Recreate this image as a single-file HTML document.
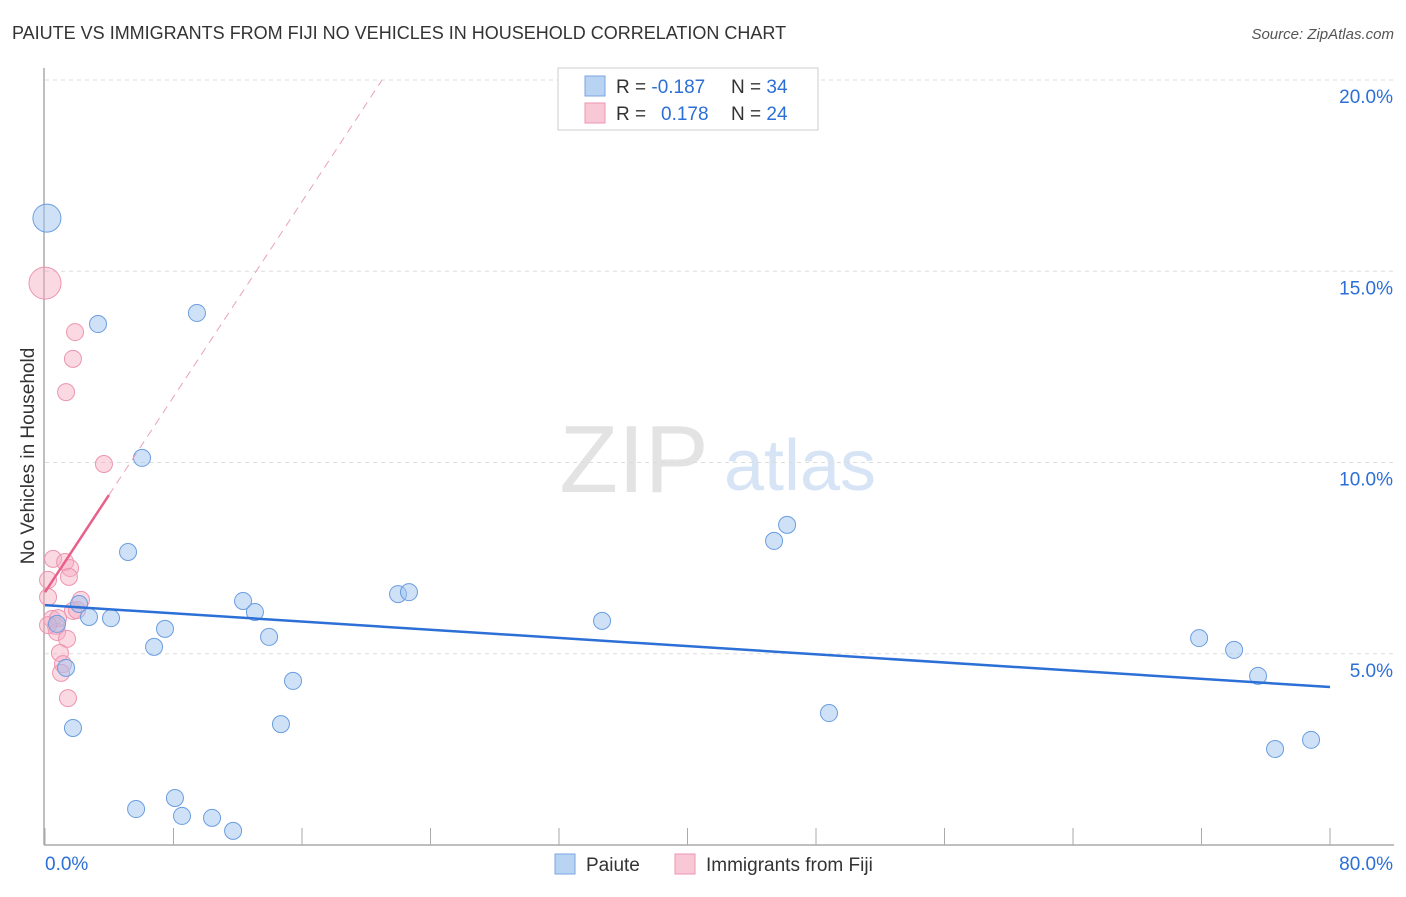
<!DOCTYPE html>
<html><head><meta charset="utf-8"><style>
body{margin:0;background:#fff;font-family:"Liberation Sans",sans-serif;}
svg text{font-family:"Liberation Sans",sans-serif;}
</style></head><body>
<svg id="c" width="1406" height="892" xmlns="http://www.w3.org/2000/svg">
<text x="12" y="39" font-size="18" fill="#333">PAIUTE VS IMMIGRANTS FROM FIJI NO VEHICLES IN HOUSEHOLD CORRELATION CHART</text>
<text x="1394" y="39" font-size="15" fill="#555" font-style="italic" text-anchor="end">Source: ZipAtlas.com</text>
<text transform="translate(34,456) rotate(-90)" font-size="19" fill="#333" text-anchor="middle">No Vehicles in Household</text>
<g>
<text x="634" y="492" font-size="96" fill="#e3e3e3" font-family="Liberation Serif" text-anchor="middle">ZIP</text>
<text x="800" y="490" font-size="72" fill="#d6e4f5" text-anchor="middle">atlas</text>
</g>
<g id="grid"></g><g id="axes"></g><g id="marks"></g>
<g>
<rect x="558" y="68" width="260" height="62" fill="#fff" stroke="#ccc"/>
<rect x="585" y="76" width="20" height="20" fill="#b9d3f3" stroke="#7aa6e0"/>
<rect x="585" y="103" width="20" height="20" fill="#f9c8d6" stroke="#ec95b0"/>
<text x="616" y="93" font-size="19" fill="#333">R = <tspan fill="#2c6fd6">-0.187</tspan></text>
<text x="731" y="93" font-size="19" fill="#333">N = <tspan fill="#2c6fd6">34</tspan></text>
<text x="616" y="120" font-size="19" fill="#333">R = <tspan fill="#2c6fd6" x="661">0.178</tspan></text>
<text x="731" y="120" font-size="19" fill="#333">N = <tspan fill="#2c6fd6">24</tspan></text>
</g>
<g>
<rect x="555" y="854" width="20" height="20" fill="#b9d3f3" stroke="#7aa6e0"/>
<text x="586" y="871" font-size="19" fill="#333">Paiute</text>
<rect x="675" y="854" width="20" height="20" fill="#f9c8d6" stroke="#ec95b0"/>
<text x="706" y="871" font-size="19" fill="#333">Immigrants from Fiji</text>
</g>
</svg>
<script>
const yTicks=[5,10,15,20];
const xTickVals=[0,8,16,24,32,40,48,56,64,72,80];
const paiuteX=[0.12,3.30,9.46,6.04,5.17,12.33,13.07,21.98,22.66,2.12,2.74,4.11,0.75,7.47,6.79,13.95,1.31,15.44,14.69,1.74,5.67,8.09,8.53,10.40,11.71,34.68,46.20,45.39,48.81,71.85,74.03,75.52,76.58,78.82];
const paiuteY=[16.39,13.62,13.91,10.12,7.66,6.38,6.09,6.56,6.61,6.30,5.96,5.93,5.78,5.65,5.18,5.44,4.63,4.29,3.16,3.06,0.94,1.23,0.76,0.71,0.37,5.86,8.37,7.95,3.45,5.41,5.10,4.42,2.51,2.75];
const fijiX=[0,1.87,1.74,1.31,3.67,0.50,1.25,1.56,1.49,0.19,0.19,2.24,1.74,0.44,0.68,0.75,1.37,0.93,1.12,1.00,1.43,0.81,1.99,0.19];
const fijiY=[14.69,13.41,12.71,11.84,9.96,7.48,7.40,7.24,7.01,6.93,6.48,6.41,6.12,5.91,5.73,5.57,5.39,5.02,4.73,4.50,3.84,5.93,6.14,5.75];
const paiuteTrend=[6.27,4.13];
const fijiTrend=[6.61,9.15,3.98];
const X=v=>45+v/80*1285, Y=v=>845-v/20*765;
const NS="http://www.w3.org/2000/svg";
function mk(p,t,a){const e=document.createElementNS(NS,t);for(const k in a)e.setAttribute(k,a[k]);document.getElementById(p).appendChild(e);return e;}
yTicks.forEach(t=>{
 const l=mk('grid','line',{x1:45,x2:1394,y1:Y(t),y2:Y(t),stroke:'#ddd','stroke-dasharray':'4,4'});
 
 
 const tx=mk('grid','text',{x:1393,y:Y(t)+23,'font-size':19,fill:'#2c6fd6','text-anchor':'end'});tx.textContent=t.toFixed(1)+'%';
 
 
});
const ya=mk('axes','line',{x1:44,x2:44,y1:68,y2:845,stroke:'#aaa','stroke-width':1.5});


const xa=mk('axes','line',{x1:44,x2:1394,y1:845,y2:845,stroke:'#aaa','stroke-width':1.5});


xTickVals.forEach(t=>{const l=mk('axes','line',{x1:X(t),x2:X(t),y1:828,y2:845,stroke:'#aaa'});
 
 });
[[0,'0.0%',45,'start'],[80,'80.0%',1393,'end']].forEach(d=>{const t=mk('axes','text',{x:d[2],y:870,'font-size':19,fill:'#2c6fd6','text-anchor':d[3]});t.textContent=d[1];
 
 });
fijiX.forEach((x,i)=>{const c=mk('marks','circle',{cx:X(x),cy:Y(fijiY[i]),r:i==0?16:8.5,fill:'rgba(246,170,194,0.45)',stroke:'#ec95b0','stroke-width':1});
 
 });
paiuteX.forEach((x,i)=>{const c=mk('marks','circle',{cx:X(x),cy:Y(paiuteY[i]),r:i==0?14:8.5,fill:'rgba(160,196,240,0.5)',stroke:'#6a9de0','stroke-width':1});
 
 });
const pt=mk('marks','line',{x1:X(0),y1:Y(paiuteTrend[0]),x2:X(80),y2:Y(paiuteTrend[1]),stroke:'#2c6fd6','stroke-width':2.5});


const slope=(fijiTrend[1]-fijiTrend[0])/fijiTrend[2];
const xEnd=(20-fijiTrend[0])/slope;
const fd=mk('marks','line',{x1:X(fijiTrend[2]),y1:Y(fijiTrend[1]),x2:X(xEnd),y2:Y(20),stroke:'#eaa0b8','stroke-width':1,'stroke-dasharray':'8,6'});


const ft=mk('marks','line',{x1:X(0),y1:Y(fijiTrend[0]),x2:X(fijiTrend[2]),y2:Y(fijiTrend[1]),stroke:'#e8608a','stroke-width':2.5});


</script>
</body></html>
